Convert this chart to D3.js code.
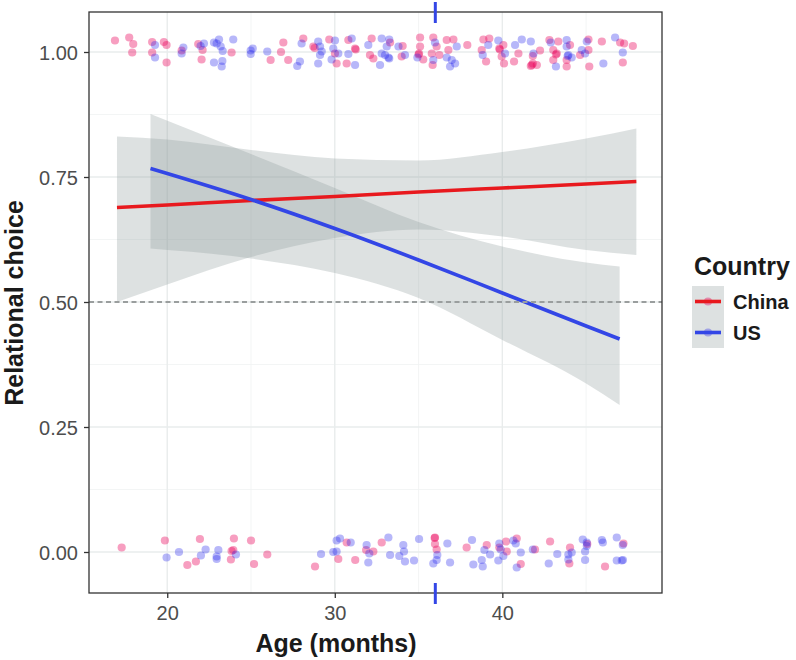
<!DOCTYPE html>
<html>
<head>
<meta charset="utf-8">
<script src="https://cdn.jsdelivr.net/npm/d3@7"></script>
<style>
  html, body { margin: 0; padding: 0; background: #ffffff; }
  svg { display: block; font-family: "Liberation Sans", Arial, Helvetica, sans-serif; }
</style>
</head>
<body>
<svg id="chart" width="796" height="660"></svg>
<script>
// ---------------- data ----------------
const countries = ["China", "US"];
const xTicks = [20, 30, 40];
const xMinor = [25, 35, 45];
const yTicks = [0, 0.25, 0.5, 0.75, 1];
const yMinor = [0.125, 0.375, 0.625, 0.875];
const yTickLabels = ["0.00", "0.25", "0.50", "0.75", "1.00"];
const chanceLevel = [0.5];
const markAges = [36];

// fitted logistic curves and confidence bands
const chinaAge = [17, 20, 25, 30, 35, 40, 45, 48];
const chinaFit = [0.689, 0.694, 0.703, 0.711, 0.720, 0.728, 0.736, 0.741];
const chinaLo  = [0.500, 0.535, 0.590, 0.628, 0.645, 0.631, 0.604, 0.594];
const chinaHi  = [0.831, 0.825, 0.804, 0.787, 0.783, 0.800, 0.827, 0.847];

const usAge = [19, 25, 30, 35, 40, 45, 47];
const usFit = [0.767, 0.705, 0.647, 0.584, 0.518, 0.452, 0.426];
const usLo  = [0.607, 0.587, 0.558, 0.508, 0.424, 0.337, 0.294];
const usHi  = [0.876, 0.796, 0.728, 0.660, 0.611, 0.579, 0.571];

// jittered raw responses [age, response]
const chinaTop = [
  [16.88,1.023],[17.73,1.029],[17.97,1.016],[17.91,0.999],[19.1,1.02],[19.8,1.02],[19.96,1.014],
  [19.1,0.999],[19.96,0.979],[20.86,1.003],[21.85,1.016],[22.11,1.004],[22.05,0.985],[23.84,0.999],
  [26.17,0.984],[26.93,1.019],[26.79,1.0],[27.22,0.984],[28.12,1.027],[28.72,1.011],[28.8,1.008],
  [29.67,1.025],[30.01,0.997],[30.11,0.977],[30.81,1.024],[31.21,1.007],[31.25,1.005],[30.71,0.977],
  [32.2,1.027],[32.1,0.994],[32.3,0.987],[33.3,1.019],[34.05,1.012],[33.99,0.991],[35.09,1.029],
  [35.09,1.011],[35.03,0.997],[35.0,0.995],[35.28,0.985],[35.88,1.029],[36.08,1.011],[35.79,0.997],
  [36.24,0.994],[35.84,0.974],[36.68,1.024],[37.08,1.025],[36.78,1.004],[37.91,1.014],[38.87,1.025],
  [39.22,1.027],[38.77,1.004],[39.03,0.981],[39.82,1.007],[39.85,1.005],[40.06,1.014],[39.96,0.991],
  [40.1,0.977],[40.96,0.997],[40.7,0.981],[41.82,0.977],[41.7,0.972],[41.76,0.974],[42.06,0.974],
  [41.82,0.992],[42.25,1.003],[42.81,1.024],[43.04,1.004],[43.25,0.997],[43.2,0.995],[43.04,0.984],
  [43.34,1.021],[44.04,1.014],[43.84,0.984],[43.84,0.971],[45.14,1.004],[45.14,1.025],[44.64,0.994],
  [45.19,0.971],[45.94,1.021],[47.03,1.019],[47.27,1.017],[47.19,0.979],[47.79,1.012]
];
const usTop = [
  [19.27,1.014],[19.27,0.989],[20.96,1.009],[20.86,0.997],[21.99,1.012],[22.19,1.017],[22.79,1.019],
  [23.09,1.025],[22.95,1.017],[23.19,1.011],[23.31,1.002],[23.94,1.025],[22.79,0.979],[23.29,0.982],
  [23.25,0.971],[24.98,1.003],[25.1,1.007],[24.98,0.996],[25.97,1.001],[27.92,0.981],[27.76,0.972],
  [28.02,1.017],[29.01,1.021],[29.12,1.011],[29.22,1.001],[29.12,0.994],[29.01,0.977],[30.01,1.023],
  [29.91,1.007],[30.21,0.997],[29.81,0.985],[31.01,1.027],[30.81,0.996],[31.21,0.974],[32.0,1.014],
  [32.8,1.027],[33.25,1.025],[33.1,1.011],[32.8,0.997],[33.0,0.994],[33.25,0.987],[33.2,0.989],
  [32.7,0.974],[33.8,1.011],[34.19,0.994],[34.93,0.989],[35.98,1.019],[35.88,0.984],[37.28,1.011],
  [36.68,0.989],[36.98,0.984],[37.18,0.977],[36.88,0.971],[39.16,1.014],[38.83,0.994],[39.76,1.023],
  [40.16,0.997],[40.76,1.014],[41.16,1.025],[41.7,1.021],[41.86,0.997],[42.89,1.019],[43.2,0.971],
  [43.84,1.024],[43.84,1.011],[43.94,0.994],[43.9,0.992],[44.14,0.989],[44.74,1.004],[44.94,0.997],
  [45.04,1.021],[46.03,0.977],[46.73,1.029],[47.19,0.999]
];
const chinaBottom = [
  [17.28,0.009],[19.86,0.023],[21.2,-0.026],[21.71,-0.019],[21.95,0.026],[23.98,0.027],[23.84,0.002],
  [23.94,0.004],[23.8,-0.015],[25.0,0.023],[25.18,-0.024],[25.97,-0.005],[28.82,-0.029],[30.71,0.019],
  [30.21,-0.014],[31.22,-0.016],[31.87,0.004],[32.3,0.001],[32.8,0.019],[35.98,0.029],[35.96,0.028],
  [35.98,0.016],[36.08,0.005],[37.87,0.009],[39.07,0.014],[39.82,0.009],[40.26,0.001],[40.22,0.021],
  [40.86,0.027],[41.1,-0.024],[41.95,0.005],[42.85,0.021],[44.04,0.009],[44.0,-0.023],[45.07,0.016],
  [46.13,-0.029],[47.23,0.017]
];
const usBottom = [
  [19.96,-0.011],[20.7,0.0],[22.01,-0.007],[22.29,0.005],[22.95,-0.009],[23.05,0.004],[22.95,-0.014],
  [24.1,-0.005],[29.18,-0.004],[29.91,0.0],[30.11,0.001],[30.11,0.023],[30.31,0.027],[30.95,0.019],
  [31.9,0.014],[32.06,-0.003],[32.0,-0.021],[33.2,0.029],[33.3,-0.006],[33.85,-0.008],[34.09,0.014],
  [34.13,0.001],[34.19,-0.019],[34.73,-0.017],[35.03,0.026],[36.12,-0.006],[35.88,-0.023],[36.08,-0.016],
  [36.72,0.017],[36.88,-0.021],[38.19,0.024],[38.27,-0.025],[38.77,-0.016],[38.83,-0.029],[38.93,0.004],
  [39.27,-0.005],[39.76,-0.017],[39.82,0.017],[39.9,0.005],[40.06,-0.008],[40.66,0.023],[40.8,0.017],
  [41.1,-0.001],[40.86,-0.031],[41.82,0.005],[42.77,-0.023],[43.28,-0.004],[43.94,-0.005],[44.14,-0.001],
  [43.94,-0.015],[44.8,0.025],[45.04,0.019],[45.04,0.012],[44.94,0.001],[44.94,-0.016],[45.94,0.024],
  [46.0,0.019],[46.83,0.029],[47.19,0.014],[46.83,-0.017],[47.13,-0.017],[47.2,-0.016]
];

// ---------------- styles ----------------
const lineColor = { China: "#e8191e", US: "#3346e6" };
const pointColor = { China: "#eb005a", US: "#1e1eeb" };
const pointAlpha = { China: 0.38, US: 0.32 };
const ribbonFill = "#8f9d9d";
const ribbonAlpha = 0.3;

// ---------------- layout ----------------
const svg = d3.select("#chart");
const P = { left: 89, right: 662, top: 12, bottom: 593 };

const x = d3.scaleLinear().domain([15.33, 49.53]).range([P.left, P.right]);
const y = d3.scaleLinear().domain([-0.082, 1.08]).range([P.bottom, P.top]);

const g = svg.append("g");

// panel background
g.append("rect").attr("x", P.left).attr("y", P.top)
  .attr("width", P.right - P.left).attr("height", P.bottom - P.top)
  .attr("fill", "#ffffff");

// grid
const grid = g.append("g");
grid.selectAll(".vmin").data(xMinor).join("line")
  .attr("x1", d => x(d)).attr("x2", d => x(d)).attr("y1", P.top).attr("y2", P.bottom)
  .attr("stroke", "#f0f2f2").attr("stroke-width", 0.8);
grid.selectAll(".hmin").data(yMinor).join("line")
  .attr("y1", d => y(d)).attr("y2", d => y(d)).attr("x1", P.left).attr("x2", P.right)
  .attr("stroke", "#f0f2f2").attr("stroke-width", 0.8);
grid.selectAll(".vmaj").data(xTicks).join("line")
  .attr("x1", d => x(d)).attr("x2", d => x(d)).attr("y1", P.top).attr("y2", P.bottom)
  .attr("stroke", "#e9ecec").attr("stroke-width", 1.4);
grid.selectAll(".hmaj").data(yTicks).join("line")
  .attr("y1", d => y(d)).attr("y2", d => y(d)).attr("x1", P.left).attr("x2", P.right)
  .attr("stroke", "#e9ecec").attr("stroke-width", 1.4);

// points
const pts = g.append("g");
function drawPts(data, c) {
  pts.append("g").selectAll("circle").data(data).join("circle")
    .attr("cx", d => x(d[0])).attr("cy", d => y(d[1])).attr("r", 4.1)
    .attr("fill", pointColor[c]).attr("fill-opacity", pointAlpha[c]);
}
drawPts(chinaTop, "China");
drawPts(usTop, "US");
drawPts(chinaBottom, "China");
drawPts(usBottom, "US");

// smooths: ribbons first, then fitted lines on top
const area = d3.area().curve(d3.curveMonotoneX)
  .x(d => x(d.a)).y0(d => y(d.lo)).y1(d => y(d.hi));
const line = d3.line().curve(d3.curveMonotoneX)
  .x(d => x(d.a)).y(d => y(d.f));

const smooths = [
  { c: "China", rows: chinaAge.map((a, i) => ({ a: a, f: chinaFit[i], lo: chinaLo[i], hi: chinaHi[i] })) },
  { c: "US", rows: usAge.map((a, i) => ({ a: a, f: usFit[i], lo: usLo[i], hi: usHi[i] })) }
];
smooths.forEach(s => {
  g.append("path").datum(s.rows).attr("d", area)
    .attr("fill", ribbonFill).attr("fill-opacity", ribbonAlpha);
});
smooths.forEach(s => {
  g.append("path").datum(s.rows).attr("d", line)
    .attr("fill", "none").attr("stroke", lineColor[s.c]).attr("stroke-width", 3.6);
});

// chance line
g.selectAll(".chance").data(chanceLevel).join("line")
  .attr("x1", P.left).attr("x2", P.right).attr("y1", d => y(d)).attr("y2", d => y(d))
  .attr("stroke", "#9a9e9e").attr("stroke-width", 2).attr("stroke-dasharray", "5,3.5");

// panel border
g.append("rect").attr("x", P.left).attr("y", P.top)
  .attr("width", P.right - P.left).attr("height", P.bottom - P.top)
  .attr("fill", "none").attr("stroke", "#333333").attr("stroke-width", 1.3);

// axes
const xAxis = d3.axisBottom(x).tickValues(xTicks).tickSize(5).tickPadding(4);
const yAxis = d3.axisLeft(y).tickValues(yTicks).tickSize(5).tickPadding(6)
  .tickFormat((d, i) => yTickLabels[i]);

const gx = svg.append("g").attr("transform", `translate(0,${P.bottom})`).call(xAxis);
const gy = svg.append("g").attr("transform", `translate(${P.left},0)`).call(yAxis);
[gx, gy].forEach(a => {
  a.select(".domain").remove();
  a.selectAll(".tick line").attr("stroke", "#333333").attr("stroke-width", 1.3);
  a.selectAll(".tick text").attr("fill", "#4d4d4d")
    .style("font-size", "20px").style("font-family", "'Liberation Sans', Arial, Helvetica, sans-serif");
});
gx.selectAll(".tick text").attr("dy", "0.71em").attr("y", 13);
gy.selectAll(".tick text").attr("dy", "0.35em");

// age marks (outside the panel edges)
svg.selectAll(".markTop").data(markAges).join("line")
  .attr("x1", d => x(d)).attr("x2", d => x(d)).attr("y1", 2).attr("y2", 23)
  .attr("stroke", lineColor.US).attr("stroke-width", 3);
svg.selectAll(".markBot").data(markAges).join("line")
  .attr("x1", d => x(d)).attr("x2", d => x(d)).attr("y1", 583).attr("y2", 604)
  .attr("stroke", lineColor.US).attr("stroke-width", 3);

// axis titles
svg.append("text").attr("x", 336).attr("y", 652).attr("text-anchor", "middle")
  .style("font-size", "25px").style("font-weight", "bold").attr("fill", "#1a1a1a")
  .text("Age (months)");
svg.append("text").attr("transform", "translate(23,303) rotate(-90)").attr("text-anchor", "middle")
  .style("font-size", "25px").style("font-weight", "bold").attr("fill", "#1a1a1a")
  .text("Relational choice");

// legend
const lg = svg.append("g");
lg.append("text").attr("x", 694).attr("y", 275)
  .style("font-size", "25px").style("font-weight", "bold").attr("fill", "#1a1a1a").text("Country");
const keyH = 31, keyTop = 286, keyLeft = 692, keyW = 32;
countries.forEach((c, i) => {
  const cy = keyTop + keyH * i + keyH / 2;
  lg.append("rect").attr("x", keyLeft).attr("y", keyTop + keyH * i)
    .attr("width", keyW).attr("height", keyH)
    .attr("fill", ribbonFill).attr("fill-opacity", ribbonAlpha);
  lg.append("circle").attr("cx", keyLeft + keyW / 2).attr("cy", cy).attr("r", 4.1)
    .attr("fill", pointColor[c]).attr("fill-opacity", pointAlpha[c]);
  lg.append("line").attr("x1", keyLeft + 3).attr("x2", keyLeft + keyW - 3)
    .attr("y1", cy).attr("y2", cy)
    .attr("stroke", lineColor[c]).attr("stroke-width", 3.6);
  lg.append("text").attr("x", 733).attr("y", cy + 7.5)
    .style("font-size", "20px").style("font-weight", "bold").attr("fill", "#1a1a1a").text(c);
});
</script>
</body>
</html>
